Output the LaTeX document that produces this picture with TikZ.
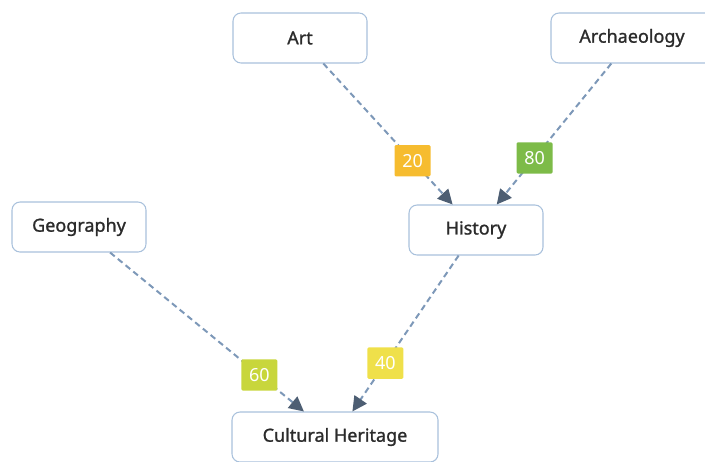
\documentclass[tikz,border=0pt]{standalone}
\usepackage{fontspec}
\setmainfont{Noto Sans}
\newfontfamily\labelfont[FakeBold=1.2]{Noto Sans}
\usetikzlibrary{arrows.meta,positioning}
\definecolor{boxborder}{HTML}{A9C1DC}
\definecolor{linkcol}{HTML}{7D98B8}
\definecolor{tipcol}{HTML}{4D5E73}
\definecolor{textcol}{HTML}{2B2B2B}
\definecolor{wOrange}{HTML}{F6BC2F}
\definecolor{wGreen}{HTML}{7DBB48}
\definecolor{wYellow}{HTML}{EFE04A}
\definecolor{wLime}{HTML}{C8D63C}
\tikzset{
  topic/.style={
    draw=boxborder,
    line width=0.8pt,
    fill=white,
    rounded corners=6pt,
    minimum width=100.5pt,
    minimum height=37.5pt,
    text=textcol,
    font=\labelfont\fontsize{13.5}{15}\selectfont
  },
  link/.style={
    draw=linkcol,
    line width=1.5pt,
    dash pattern=on 4.5pt off 3pt,
    -{Triangle[length=11pt,width=11pt,color=tipcol]}
  },
  weight/.style={
    fill=#1,
    text=white,
    inner sep=0pt,
    minimum width=27pt,
    minimum height=23.5pt,
    rounded corners=1pt,
    font=\fontsize{13.5}{15}\selectfont
  }
}

\begin{document}
\begin{tikzpicture}[x=0.75pt,y=-0.75pt]
  \useasboundingbox (0,0) rectangle (705,461);

  % topics
  \node[topic] (art) at (300,38) {Art};
  \node[topic, minimum width=121.5pt] (archaeology) at (632,38) {Archaeology};
  \node[topic] (history) at (476,230) {History};
  \node[topic] (geography) at (79,227) {Geography};
  \node[topic, minimum width=154.5pt] (cultural_heritage) at (335,437) {Cultural Heritage};

  % links with weights
  \path (art) edge[link] node[weight=wOrange, pos=0.69] {20} (history)
        (archaeology) edge[link] node[weight=wGreen, pos=0.67] {80} (history)
        (history) edge[link] node[weight=wYellow, pos=0.69] {40} (cultural_heritage)
        (geography) edge[link] node[weight=wLime, pos=0.77] {60} (cultural_heritage);
\end{tikzpicture}
\end{document}
